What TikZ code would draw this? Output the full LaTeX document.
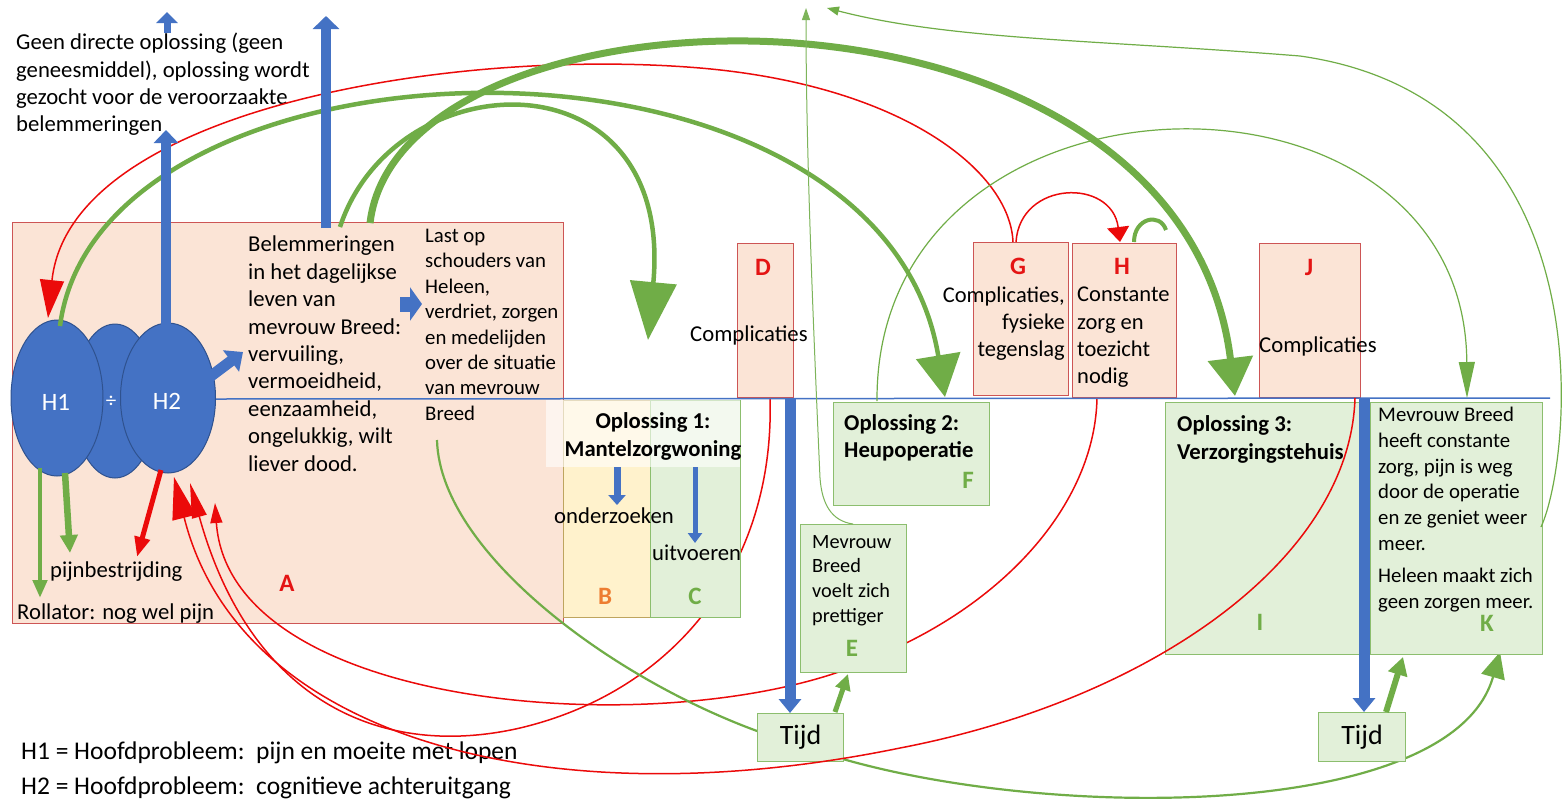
\documentclass[tikz,border=0pt]{standalone}
\usepackage{fontspec}
\setmainfont{Carlito}
\usetikzlibrary{arrows.meta,shapes.geometric}
\definecolor{cblue}{RGB}{68,114,196}
\definecolor{cbluedk}{RGB}{47,82,143}
\definecolor{cgreen}{RGB}{112,173,71}
\definecolor{thingreen}{RGB}{125,180,90}
\definecolor{cred}{RGB}{235,10,10}
\definecolor{clred}{RGB}{228,20,20}
\definecolor{corange}{RGB}{237,125,49}
\definecolor{fillred}{RGB}{251,228,214}
\definecolor{edgered}{RGB}{205,85,85}
\definecolor{fillgreen}{RGB}{226,240,217}
\definecolor{edgegreen}{RGB}{140,190,110}
\definecolor{fillorange}{RGB}{255,242,204}
\definecolor{edgeorange}{RGB}{190,165,95}
\newcommand{\fontR}{\fontsize{22.7}{27.4}\selectfont}
\newcommand{\fontS}{\fontsize{20.8}{25.4}\selectfont}
\newcommand{\fontE}{\fontsize{20.3}{24.6}\selectfont}
\newcommand{\fontK}{\fontsize{20.8}{25.7}\selectfont}
\newcommand{\fontB}{\bfseries\fontsize{22.7}{28}\selectfont}
\newcommand{\fontL}{\bfseries\fontsize{25}{25}\selectfont}
\tikzset{
  boxbase/.style={inner sep=0pt, anchor=north west, line width=1pt},
  rbox/.style={boxbase, draw=edgered, fill=fillred},
  gbox/.style={boxbase, draw=edgegreen, fill=fillgreen},
  obox/.style={boxbase, draw=edgeorange, fill=fillorange},
  txt/.style={inner sep=0pt, anchor=north west, align=left, font=\fontR, text=black},
  btxt/.style={txt, font=\fontB},
  lettr/.style={inner sep=0pt, font=\fontL},
  blob/.style={ellipse, draw=cbluedk, fill=cblue, line width=1pt, inner sep=0pt},
  redln/.style={draw=cred, line width=1.5pt},
  grnln/.style={draw=cgreen},
  bluln/.style={draw=cblue}
}
\begin{document}
\begin{tikzpicture}[x=1pt,y=-1pt]
\useasboundingbox (0,0) rectangle (1568,801);
\fill[white] (0,0) rectangle (1568,801);

% ---- main box A
\node[rbox, minimum width=551pt, minimum height=401pt] (A) at (12,222) {};

% ---- coordinates
\coordinate (Db) at (770,398);
\coordinate (Hb) at (1097,398);
\coordinate (Jb) at (1355,398);
\coordinate (tipA) at (174,477);
\coordinate (tipB) at (190,483);
\coordinate (tipC) at (215,503);
\coordinate (Br) at (437,440);
\coordinate (Kb) at (1500,652);

% ---- curves under boxes
\draw[redln, -{Triangle[width=15pt,length=35pt]}] (Db) .. controls (775,560) and (680,690) .. (520,728) .. controls (380,760) and (250,700) .. (tipB);
\draw[redln, -{Triangle[width=12pt,length=20pt]}] (Hb) .. controls (1095,500) and (1010,600) .. (880,655) .. controls (700,745) and (230,720) .. (tipC);
\draw[grnln, line width=2.2pt, -{Triangle[width=24pt,length=26pt]}] (Br) .. controls (440,560) and (640,700) .. (800,745) .. controls (1000,820) and (1450,830) .. (Kb);

% ---- boxes
\node[obox, minimum width=87pt, minimum height=217pt] (B) at (563,400) {};
\node[gbox, minimum width=90pt, minimum height=217pt] (C) at (650,400) {};
\node[inner sep=0pt, anchor=north west, fill=white, fill opacity=0.6, minimum width=194pt, minimum height=67pt] (wov) at (546,400) {};
\node[rbox, minimum width=56pt, minimum height=154pt] (D) at (737,243) {};
\node[gbox, minimum width=106pt, minimum height=148pt] (E) at (800,524) {};
\node[gbox, minimum width=156pt, minimum height=103pt] (F) at (833,402) {};
\node[rbox, minimum width=95pt, minimum height=153pt] (G) at (973,242) {};
\node[rbox, minimum width=104pt, minimum height=154pt] (H) at (1072,243) {};
\node[rbox, minimum width=101pt, minimum height=154pt] (J) at (1259,243) {};
\node[gbox, minimum width=205pt, minimum height=252pt] (I) at (1165,402) {};
\node[gbox, minimum width=172pt, minimum height=252pt] (K) at (1370,402) {};
\node[gbox, minimum width=86pt, minimum height=48pt, font=\fontsize{28}{28}\selectfont] (T1) at (757,713) {Tijd};
\node[gbox, minimum width=87pt, minimum height=49pt, font=\fontsize{28}{28}\selectfont] (T2) at (1318,712) {Tijd};

% ---- horizontal time line
\coordinate (hl1) at (215,399);
\coordinate (hl2) at (1550,398);
\draw[bluln, line width=1.5pt] (hl1) -- (hl2);

% ---- problem ellipses
\node[blob, minimum width=84pt, minimum height=154pt] (M) at (115,401) {};
\node[blob, minimum width=92pt, minimum height=156pt] (H1) at (57,398) {};
\node[blob, minimum width=95pt, minimum height=150pt] (H2) at (168,398) {};
\node[text=white, font=\fontsize{25}{25}\selectfont] (lH1) at (56,402) {H1};
\node[text=white, font=\fontsize{21}{21}\selectfont] (ldiv) at (111,402) {÷};
\node[text=white, font=\fontsize{25}{25}\selectfont] (lH2) at (167,401) {H2};

% ---- texts
\node[txt] (geen) at (16,33) {Geen directe oplossing (geen\\geneesmiddel), oplossing wordt\\gezocht voor de veroorzaakte\\belemmeringen};
\node[txt] (belem) at (248,236) {Belemmeringen\\in het dagelijkse\\leven van\\mevrouw Breed:\\vervuiling,\\vermoeidheid,\\eenzaamheid,\\ongelukkig, wilt\\liever dood.};
\node[txt, font=\fontS] (last) at (425,229) {Last op\\schouders van\\Heleen,\\verdriet, zorgen\\en medelijden\\over de situatie\\van mevrouw\\Breed};
\node[txt] (pijn) at (50,562) {pijnbestrijding};
\node[txt] (rol) at (17,604) {Rollator: nog wel pijn};
\node[txt] (onder) at (554,508) {onderzoeken};
\node[txt] (uit) at (652,545) {uitvoeren};
\node[btxt, align=center, anchor=north] (opl1) at (653,412) {Oplossing 1:\\Mantelzorgwoning};
\node[txt] (complD) at (690,326) {Complicaties};
\node[txt, font=\fontE] (Etxt) at (812,535) {Mevrouw\\Breed\\voelt zich\\prettiger};
\node[btxt, font=\fontsize{22.7}{27}\bfseries\selectfont] (opl2) at (844,414) {Oplossing 2:\\Heupoperatie};
\node[txt, align=right, anchor=north east, font=\fontsize{22.5}{27}\selectfont] (Gtxt) at (1065,287) {Complicaties,\\fysieke\\tegenslag};
\node[txt, font=\fontsize{22.5}{27.2}\selectfont] (Htxt) at (1077,287) {Constante\\zorg en\\toezicht\\nodig};
\node[txt] (complJ) at (1259,337) {Complicaties};
\node[btxt] (opl3) at (1177,415) {Oplossing 3:\\Verzorgingstehuis};
\node[txt, font=\fontK] (Ktxt) at (1378,407) {Mevrouw Breed\\heeft constante\\zorg, pijn is weg\\door de operatie\\en ze geniet weer\\meer.\\[7pt]Heleen maakt zich\\geen zorgen meer.};
\node[txt, font=\fontsize{25.5}{34.5}\selectfont] (leg) at (21,742) {H1 = Hoofdprobleem:\ \ pijn en moeite met lopen\\H2 = Hoofdprobleem:\ \ cognitieve achteruitgang};

% ---- letters
\node[lettr, text=clred] (lA) at (287,583) {A};
\node[lettr, text=corange] (lB) at (605,596) {B};
\node[lettr, text=cgreen] (lC) at (695,596) {C};
\node[lettr, text=clred] (lD) at (763,267) {D};
\node[lettr, text=cgreen] (lE) at (852,648) {E};
\node[lettr, text=cgreen] (lF) at (968,480) {F};
\node[lettr, text=clred] (lG) at (1018,266) {G};
\node[lettr, text=clred] (lH) at (1122,266) {H};
\node[lettr, text=clred] (lJ) at (1309,267) {J};
\node[lettr, text=cgreen] (lI) at (1260,622) {I};
\node[lettr, text=cgreen] (lK) at (1487,623) {K};

% ---- more coordinates
\coordinate (h1t) at (60,326);
\coordinate (Ftip) at (945,397);
\coordinate (b1) at (340,227);
\coordinate (b2) at (370,223);
\coordinate (O1tip) at (648,340);
\coordinate (Itip) at (1235,396);
\coordinate (Ftop) at (877,401);
\coordinate (Ktip) at (1467,398);
\coordinate (Kr) at (1541,527);
\coordinate (toptipB) at (827,8);
\coordinate (Et) at (853,524);
\coordinate (toptipA) at (806,8);
\coordinate (Gt) at (1013,242);
\coordinate (Gt2) at (1016,242);
\coordinate (H1tip) at (48,318);
\coordinate (Htip) at (1120,242);
\coordinate (Hh1) at (1134,242);
\coordinate (Hh2) at (1166,230);
\coordinate (h2b) at (161,470);
\coordinate (pijtip) at (137,557);
\coordinate (h1b1) at (40,468);
\coordinate (roltip) at (40,598);
\coordinate (h1b2) at (65,473);
\coordinate (pijtip2) at (70,553);
\coordinate (h2t) at (166,325);
\coordinate (h2tip) at (166,130);
\coordinate (smb) at (167,33);
\coordinate (smt) at (167,12);
\coordinate (belb) at (326,228);
\coordinate (belt) at (326,16);
\coordinate (h2r) at (207,379);
\coordinate (blk) at (243,352);
\coordinate (bl1) at (400,304);
\coordinate (bl2) at (422,304);
\coordinate (Ba1) at (617,467);
\coordinate (Ba2) at (617,505);
\coordinate (Ca1) at (695,467);
\coordinate (Ca2) at (695,543);
\coordinate (tb1) at (790,399);
\coordinate (tb2) at (1364,399);
\coordinate (T1g) at (835,712);
\coordinate (Eg) at (848,674);
\coordinate (T2g) at (1386,712);
\coordinate (Kg) at (1403,657);

% ---- red curves over boxes
\draw[redln, -{Triangle[width=24pt,length=42pt]}] (Jb) .. controls (1350,560) and (1150,700) .. (900,748) .. controls (550,820) and (240,740) .. (tipA);
\draw[redln, -{Triangle[width=24pt,length=38pt]}] (Gt) .. controls (1010,170) and (900,85) .. (700,68) .. controls (450,47) and (70,110) .. (H1tip);
\draw[redln, -{Triangle[width=22pt,length=15pt]}] (Gt2) .. controls (1020,180) and (1112,178) .. (Htip);
\draw[draw=cred, line width=5pt, -{Triangle[width=15pt,length=20pt]}] (h2b) -- (pijtip);

% ---- green curves
\draw[grnln, line width=4.5pt, -{Triangle[width=44pt,length=42pt]}] (h1t) .. controls (100,20) and (880,0) .. (Ftip);
\draw[grnln, line width=7pt, -{Triangle[width=44pt,length=38pt]}] (b2) .. controls (400,-30) and (1180,-50) .. (Itip);
\draw[grnln, line width=4.5pt, -{Triangle[width=46pt,length=58pt]}] (b1) .. controls (395,60) and (675,50) .. (O1tip);
\draw[grnln, line width=1.2pt, -{Triangle[width=16pt,length=36pt]}] (Ftop) .. controls (875,50) and (1465,40) .. (Ktip);
\draw[grnln, line width=1.2pt, -{Triangle[width=9pt,length=12pt]}] (Kr) .. controls (1572,460) and (1610,100) .. (1300,56) .. controls (1100,40) and (950,40) .. (toptipB);
\draw[draw=thingreen, line width=1pt, -{Triangle[width=8pt,length=12pt]}] (Et) .. controls (832,521) and (822,505) .. (820,478) .. controls (813,320) and (806,150) .. (toptipA);
\draw[grnln, line width=4pt] (Hh1) .. controls (1134,218) and (1160,212) .. (Hh2);
\draw[grnln, line width=4.5pt, -{Triangle[width=14pt,length=18pt]}] (h1b1) -- (roltip);
\draw[grnln, line width=6.5pt, -{Triangle[width=17pt,length=18pt]}] (h1b2) -- (pijtip2);
\draw[grnln, line width=5pt, -{Triangle[width=15pt,length=16pt]}] (T1g) -- (Eg);
\draw[grnln, line width=6pt, -{Triangle[width=19pt,length=18pt]}] (T2g) -- (Kg);

% ---- blue arrows
\draw[bluln, line width=10pt, -{Triangle[width=24pt,length=13pt]}] (h2t) -- (h2tip);
\draw[bluln, line width=7pt, -{Triangle[width=21pt,length=11pt]}] (smb) -- (smt);
\draw[bluln, line width=10pt, -{Triangle[width=26pt,length=13pt]}] (belb) -- (belt);
\draw[bluln, line width=11pt, -{Triangle[width=26pt,length=15pt]}] (h2r) -- (blk);
\draw[bluln, line width=15pt, -{Triangle[width=33pt,length=12pt]}] (bl1) -- (bl2);
\draw[bluln, line width=7pt, -{Triangle[width=17pt,length=10pt]}] (Ba1) -- (Ba2);
\draw[bluln, line width=5pt, -{Triangle[width=14pt,length=10pt]}] (Ca1) -- (Ca2);
\draw[bluln, line width=11pt, -{Triangle[width=22pt,length=14pt]}] (tb1) -- (T1.north -| tb1);
\draw[bluln, line width=11pt, -{Triangle[width=22pt,length=14pt]}] (tb2) -- (T2.north -| tb2);
\end{tikzpicture}
\end{document}
